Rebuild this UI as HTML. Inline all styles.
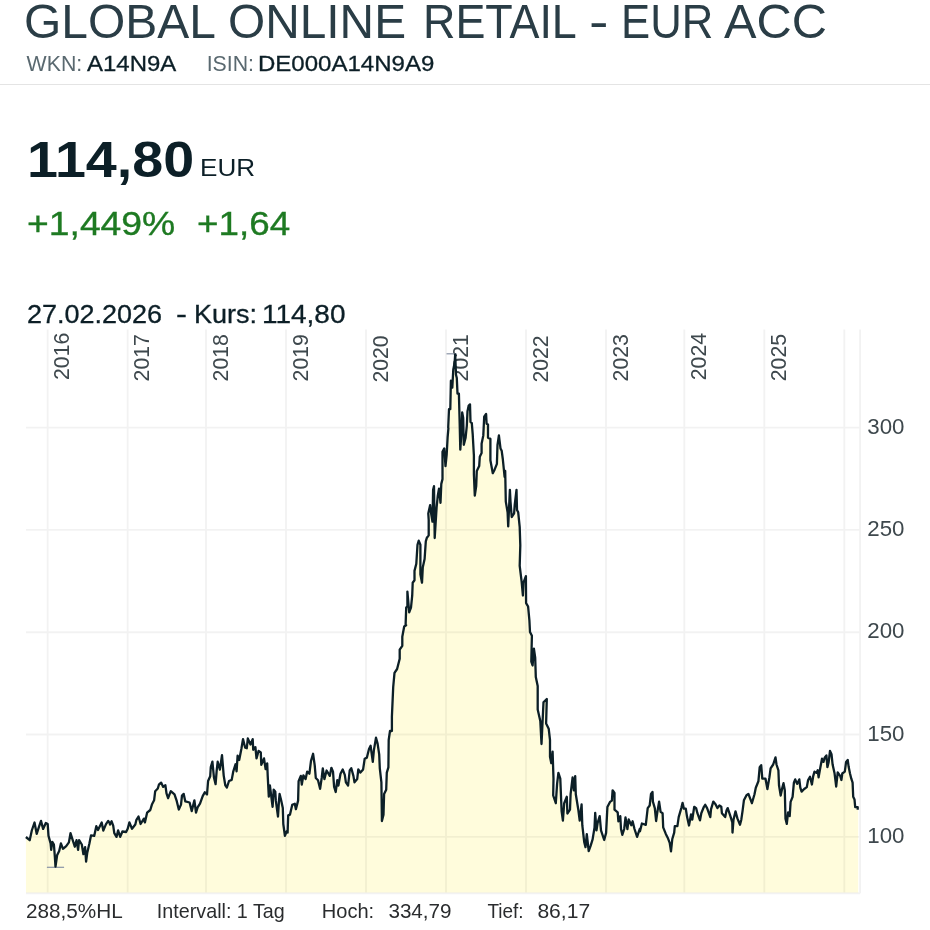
<!DOCTYPE html>
<html><head><meta charset="utf-8">
<title>GLOBAL ONLINE RETAIL - EUR ACC</title>
<style>
html,body{margin:0;padding:0;background:#fff;}
body{width:930px;height:930px;overflow:hidden;position:relative;font-family:"Liberation Sans",sans-serif;color:#0c1f27;}
.t{position:absolute;white-space:nowrap;line-height:1;transform-origin:0 0;}
.tt{top:-2.3px;font-size:47.3px;color:#2a3d46;}
.w{top:54.2px;font-size:21.3px;}
.l{color:#5a6970;}
#hr{position:absolute;left:0;top:84px;width:930px;height:1px;background:#e4e4e4;}
#price{left:26.8px;top:135.2px;font-size:50px;font-weight:bold;transform:scaleX(1.113);}
#cur{left:200px;top:156.8px;font-size:23.5px;transform:scaleX(1.11);}
.c{top:206.5px;font-size:33px;color:#1e7a22;-webkit-text-stroke:0.35px #1e7a22;transform:scaleX(1.13);}
.d{-webkit-text-stroke:0.3px #0c1f27;top:301.9px;font-size:25.3px;transform:scaleX(1.067);}
#chart{position:absolute;left:0;top:326px;}
.g{stroke:#000;stroke-opacity:0.05;stroke-width:1.9;fill:none;}
.m{stroke:#8a94a6;stroke-width:1.2;fill:none;}
.ln{stroke:#0c1f27;stroke-width:2.3;fill:none;stroke-linejoin:round;stroke-linecap:butt;}
text{font-family:"Liberation Sans",sans-serif;fill:#3e484d;}
.yr{font-size:21.5px;}
.yl{font-size:21.9px;}
.bt{font-size:20.9px;fill:#2a2c2e;}
</style></head>
<body>
<div id="t1" class="t tt" style="left:24.2px;transform:scaleX(1.014)">GLOBAL</div>
<div id="t2" class="t tt" style="left:227.8px;transform:scaleX(1.011)">ONLINE</div>
<div id="t3" class="t tt" style="left:423.2px;transform:scaleX(0.949)">RETAIL</div>
<div id="t4" class="t tt" style="left:588.6px;transform:scaleX(1.236)">-</div>
<div id="t5" class="t tt" style="left:620.7px;transform:scaleX(0.924)">EUR</div>
<div id="t6" class="t tt" style="left:724.1px;transform:scaleX(1.03)">ACC</div>
<div id="w1" class="t w l" style="left:26.6px">WKN:</div>
<div id="w2" class="t w" style="left:87.4px;transform:scaleX(1.125);-webkit-text-stroke:0.3px #0c1f27">A14N9A</div>
<div id="w3" class="t w l" style="left:206.7px">ISIN:</div>
<div id="w4" class="t w" style="left:257.5px;transform:scaleX(1.128);-webkit-text-stroke:0.3px #0c1f27">DE000A14N9A9</div>
<div id="hr"></div>
<div id="price" class="t">114,80</div>
<div id="cur" class="t">EUR</div>
<div id="c1" class="t c" style="left:26.5px">+1,449%</div>
<div id="c2" class="t c" style="left:197.3px;transform:scaleX(1.115)">+1,64</div>
<div id="d1" class="t d" style="left:27px">27.02.2026</div>
<div id="d2" class="t d" style="left:176.2px;transform:scaleX(1.3)">-</div>
<div id="d3" class="t d" style="left:193.5px">Kurs:</div>
<div id="d4" class="t d" style="left:262.3px;transform:scaleX(1.105)">114,80</div>
<svg id="chart" width="930" height="604" viewBox="0 326 930 604">
<text class="yr" transform="translate(69.25,380.0) rotate(-90)" textLength="47.3" lengthAdjust="spacingAndGlyphs">2016</text>
<text class="yr" transform="translate(149.25,381.4) rotate(-90)" textLength="47.3" lengthAdjust="spacingAndGlyphs">2017</text>
<text class="yr" transform="translate(227.6,381.4) rotate(-90)" textLength="47.3" lengthAdjust="spacingAndGlyphs">2018</text>
<text class="yr" transform="translate(307.6,381.4) rotate(-90)" textLength="47.3" lengthAdjust="spacingAndGlyphs">2019</text>
<text class="yr" transform="translate(387.6,382.6) rotate(-90)" textLength="47.3" lengthAdjust="spacingAndGlyphs">2020</text>
<text class="yr" transform="translate(467.6,381.4) rotate(-90)" textLength="47.3" lengthAdjust="spacingAndGlyphs">2021</text>
<text class="yr" transform="translate(547.6,382.6) rotate(-90)" textLength="47.3" lengthAdjust="spacingAndGlyphs">2022</text>
<text class="yr" transform="translate(627.6,381.4) rotate(-90)" textLength="47.3" lengthAdjust="spacingAndGlyphs">2023</text>
<text class="yr" transform="translate(705.9300000000001,380.2) rotate(-90)" textLength="47.3" lengthAdjust="spacingAndGlyphs">2024</text>
<text class="yr" transform="translate(785.9300000000001,381.2) rotate(-90)" textLength="47.3" lengthAdjust="spacingAndGlyphs">2025</text>
<path d="M26,892.6 L25.9,837.0 L29.7,840.2 L31.8,830.5 L34.5,822.5 L36.7,833.8 L38.8,827.3 L41.0,820.9 L43.1,828.9 L45.8,823.0 L47.7,824.1 L48.5,835.9 L50.6,843.4 L51.2,849.9 L52.3,841.8 L53.9,844.5 L54.9,857.4 L55.5,866.6 L57.1,855.3 L59.2,851.0 L60.9,843.4 L63.0,848.8 L66.2,846.1 L68.9,842.4 L70.5,833.2 L72.7,840.2 L74.8,846.7 L76.5,840.2 L78.1,849.9 L79.1,840.2 L81.8,844.5 L83.4,854.2 L85.1,847.2 L86.1,861.7 L87.2,853.1 L89.4,843.4 L91.0,835.4 L94.2,835.9 L96.3,826.2 L98.0,830.0 L101.7,822.5 L103.3,830.5 L106.0,824.1 L108.2,820.9 L109.8,823.5 L110.0,824.5 L111.6,821.3 L113.2,825.6 L114.3,833.1 L116.5,836.9 L118.1,830.4 L120.2,836.9 L122.4,831.5 L126.1,832.0 L127.7,828.8 L129.4,822.4 L132.0,828.8 L135.3,824.5 L136.3,820.2 L138.5,816.5 L140.6,824.0 L143.9,818.6 L144.9,822.4 L147.1,812.7 L150.3,810.0 L151.9,804.6 L154.1,800.3 L155.2,791.2 L157.8,788.5 L158.9,784.7 L161.1,782.6 L163.2,786.9 L165.4,785.3 L166.5,793.3 L168.1,798.2 L170.8,791.2 L174.5,794.4 L176.7,800.9 L178.8,809.5 L181.0,804.6 L182.0,795.5 L183.7,793.9 L185.3,801.4 L189.6,802.5 L191.7,811.1 L194.4,800.3 L196.0,812.7 L197.6,807.3 L200.0,803.6 L202.7,796.1 L204.8,792.3 L207.0,794.5 L208.1,781.0 L210.2,776.2 L210.8,767.0 L212.4,761.7 L214.0,777.8 L215.6,784.2 L216.7,770.3 L217.7,761.7 L219.9,769.7 L222.0,755.2 L223.7,775.6 L225.3,785.3 L226.9,787.5 L229.0,781.0 L231.7,779.9 L233.3,771.3 L235.5,764.3 L236.6,771.3 L237.6,755.7 L239.2,760.0 L241.4,748.8 L243.0,739.1 L245.2,747.7 L246.8,748.2 L247.8,738.5 L250.5,744.5 L252.7,739.1 L253.2,749.8 L255.4,747.1 L256.5,758.4 L258.6,750.9 L260.8,752.5 L261.3,764.9 L264.0,758.4 L265.6,769.2 L267.2,763.3 L267.7,775.6 L268.8,796.6 L269.9,785.3 L272.6,806.8 L273.7,789.6 L275.3,791.8 L275.8,800.4 L278.0,816.5 L279.0,800.4 L279.6,793.9 L281.2,800.4 L282.8,807.9 L283.3,824.0 L284.9,835.8 L286.6,831.5 L287.6,832.6 L288.2,815.4 L290.0,814.6 L292.2,804.9 L294.8,803.8 L295.9,809.2 L298.1,800.6 L298.6,781.2 L300.8,775.9 L301.8,784.5 L303.4,775.3 L305.6,779.1 L307.2,771.6 L309.4,773.7 L311.0,760.8 L313.1,753.8 L314.7,765.1 L315.8,778.0 L318.0,780.2 L320.1,788.8 L321.7,778.0 L322.8,768.3 L324.4,779.1 L326.6,770.5 L329.8,775.9 L331.4,767.8 L333.0,771.6 L334.1,786.6 L335.7,792.0 L337.3,780.2 L338.4,785.5 L340.5,773.7 L342.7,769.4 L344.8,774.8 L345.9,782.3 L348.1,785.5 L349.7,770.5 L351.3,768.3 L353.4,775.9 L354.5,782.3 L357.2,779.1 L358.3,769.4 L360.4,772.6 L363.1,769.4 L364.7,758.7 L366.9,757.6 L369.0,749.0 L370.6,745.8 L372.8,761.9 L373.9,750.1 L376.0,737.7 L377.6,743.6 L379.2,754.4 L379.8,768.3 L381.4,782.3 L381.9,821.0 L383.5,814.6 L384.1,794.1 L386.2,789.8 L386.8,772.6 L388.4,767.3 L388.7,740.0 L390.0,731.0 L391.9,731.0 L391.9,716.8 L393.2,687.1 L394.5,672.9 L397.1,669.0 L399.7,658.7 L399.7,649.7 L402.3,645.8 L402.3,636.8 L404.2,626.5 L406.1,625.2 L405.6,625.3 L406.2,607.5 L407.4,606.3 L407.4,591.6 L409.2,612.3 L411.0,607.5 L412.2,595.7 L412.7,582.7 L414.5,580.3 L414.5,570.9 L416.3,563.8 L417.5,544.8 L418.7,540.7 L420.4,544.8 L420.4,574.4 L422.0,582.7 L422.8,567.3 L424.6,559.0 L425.8,541.3 L426.9,537.7 L428.7,535.4 L428.7,520.0 L428.3,513.4 L430.1,505.2 L431.3,514.6 L432.5,521.7 L433.1,489.8 L434.0,486.2 L434.7,538.0 L436.6,507.5 L437.8,495.7 L439.0,488.6 L440.5,502.8 L441.3,483.9 L442.5,479.1 L442.5,451.9 L444.3,448.4 L445.5,466.1 L446.7,454.3 L447.6,437.7 L448.4,428.3 L448.2,427.5 L449.0,409.2 L450.3,409.2 L450.9,380.7 L452.3,387.7 L453.3,369.4 L454.6,363.0 L455.2,354.4 L456.0,374.8 L456.8,378.0 L457.5,393.6 L458.9,393.6 L459.7,424.2 L460.3,449.6 L461.5,431.8 L462.2,412.4 L463.2,418 L463.8,444.8 L465.6,437.7 L466.8,426 L467.5,411.3 L468.6,405.9 L470,404.4 L470.5,422 L471.8,423.2 L472.7,434.2 L473.9,455.5 L473.9,474.4 L474.8,495.7 L476.2,486.2 L476.8,470.9 L479.2,466.1 L479.8,456.7 L481.6,453.1 L481.6,443.7 L483.3,435.4 L484.2,416.7 L486.1,414 L486.6,423.7 L488,424.5 L488,437.7 L490.4,438.9 L490.4,460.2 L492.8,473.2 L494.6,469.7 L496.9,463.8 L497.5,444.8 L498.9,435.4 L500.5,448.4 L501.7,450.8 L502.8,459 L504.6,476.8 L505.2,470.9 L505.8,501.6 L507.6,512.3 L508.2,526.4 L509.9,489.8 L510.5,501.6 L511.7,517 L514.1,513.4 L514.7,505.2 L516.5,489.8 L517,509.9 L518.2,512.3 L519.7,527.1 L520.3,545.2 L519.7,565.8 L521.6,581.3 L522.9,595.5 L523.5,582.6 L525.9,576.1 L526.1,603.2 L528.1,606.5 L529.4,620.3 L530,632 L531.9,635.8 L531.3,661.6 L532.6,665.5 L533.9,648.7 L535.2,657.7 L535.8,677.1 L537.7,686.1 L537.7,709.4 L540.3,721 L541.5,744 L543.5,702.3 L546.8,699 L546.1,723.5 L548.7,728.7 L550.0,740.0 L550.0,756.8 L551.3,763.2 L552.6,751.6 L553.5,778.7 L553.2,795.5 L555.8,803.2 L557.1,783.9 L558.4,772.9 L560.3,778.7 L561.6,811.0 L562.9,820.6 L564.2,803.2 L566.8,796.8 L567.4,813.5 L570.0,809.7 L570.6,794.2 L572.6,777.4 L573.9,790.3 L575.2,776.1 L575.8,794.2 L578.4,810.3 L579.7,820.6 L581.6,804.5 L582.3,825.2 L584.2,841.9 L585.5,847.1 L586.8,834.2 L588.7,851.0 L590.6,845.8 L592.6,839.4 L594.5,827.7 L595.2,812.9 L596.5,830.3 L597.7,822.6 L599.7,816.1 L601.0,830.3 L604.2,840.0 L606.1,832.9 L607.4,807.1 L610.0,801.9 L611.9,800.6 L612.6,790.3 L614.5,792.9 L614.5,809.7 L617.7,812.3 L618.4,821.3 L620.3,816.1 L621.0,829.0 L622.3,834.8 L624.2,829.0 L625.5,817.4 L627.4,829.0 L628.7,819.4 L631.3,825.2 L632.6,821.3 L634.5,829.0 L637.1,836.8 L639.7,829.0 L640.0,831.3 L641.9,823.5 L645.8,824.8 L647.7,808.1 L649.7,805.5 L651.0,793.9 L652.5,791.9 L652.9,801.6 L654.8,808.1 L656.1,821.0 L657.4,811.9 L659.1,801.6 L660.6,811.9 L662.6,813.2 L663.2,827.4 L665.8,833.9 L667.7,837.7 L669.7,842.9 L671.0,851.3 L672.3,839.0 L674.2,832.6 L674.8,826.1 L677.4,826.1 L678.7,817.1 L681.3,808.1 L682.6,802.9 L683.9,808.7 L685.8,808.7 L687.1,817.1 L689.0,825.5 L691.0,814.5 L692.3,819.7 L694.2,806.8 L696.1,808.1 L697.4,813.2 L700.0,820.3 L701.3,813.2 L703.9,806.8 L705.2,804.8 L707.1,808.1 L710.3,817.1 L711.0,809.4 L713.3,801.6 L715.5,804.2 L717.4,808.1 L719.4,805.5 L721.3,806.8 L721.9,813.2 L725.2,817.1 L726.5,810.6 L727.7,808.1 L730.3,815.8 L732.3,822.3 L732.5,832.6 L733.5,819.7 L735.5,811.3 L737.4,818.4 L740.0,824.8 L741.3,819.7 L742.6,810.6 L743.9,800.3 L746.5,795.2 L748.4,793.9 L750.0,798.1 L751.9,803.2 L754.5,794.2 L755.8,787.7 L758.4,781.3 L759.7,767.1 L761.2,765.2 L762.3,778.7 L765.5,778.7 L767.4,789.0 L769.4,777.4 L770.6,768.4 L773.2,764.5 L775.5,757.4 L776.5,764.5 L778.4,770.3 L779.0,785.2 L780.7,795.5 L782.3,787.7 L783.5,783.2 L784.8,790.3 L785.5,818.7 L786.8,823.9 L788.1,812.3 L789.7,816.1 L790.6,801.9 L792.6,796.8 L793.9,782.6 L795.2,779.4 L797.1,783.9 L799.3,779.4 L800.3,787.7 L801.6,791.6 L804.2,789.0 L806.8,787.1 L808.1,780.0 L810.0,776.8 L811.9,784.5 L813.2,776.1 L814.5,771.6 L816.5,772.9 L817.7,770.3 L818.6,777.4 L820.3,767.7 L822.0,758.7 L823.5,761.9 L824.8,757.4 L826.4,755.5 L827.4,767.1 L828.7,761.9 L830.0,751.0 L831.5,754.2 L832.6,764.5 L834.5,772.9 L836.2,786.5 L837.7,772.3 L840.3,776.1 L841.4,780.0 L842.3,773.5 L844.8,771.6 L846.1,761.9 L847.7,760.0 L848.7,767.1 L850.0,773.5 L851.3,778.7 L852.6,782.6 L853.2,796.8 L854.5,799.4 L855.2,807.1 L857.7,807.1 L857.7,809.7 L858.2,809.7 L858.2,892.6 Z" fill="#fffcdc" stroke="none"/>
<path d="M47.65,329.5V893.2M127.65,329.5V893.2M206.0,329.5V893.2M286.0,329.5V893.2M366.0,329.5V893.2M446.0,329.5V893.2M526.0,329.5V893.2M606.0,329.5V893.2M684.33,329.5V893.2M764.33,329.5V893.2M844.33,329.5V893.2M860.1,329.5V893.2M26,427.6H860.1M26,529.9H860.1M26,632.2H860.1M26,734.55H860.1M26,836.9H860.1M26,893.2H860.1" class="g"/>
<line x1="46.9" y1="867.3" x2="64.1" y2="867.3" class="m"/>
<line x1="446.5" y1="353.8" x2="456.5" y2="353.8" class="m"/>
<polyline points="25.9,837.0 29.7,840.2 31.8,830.5 34.5,822.5 36.7,833.8 38.8,827.3 41.0,820.9 43.1,828.9 45.8,823.0 47.7,824.1 48.5,835.9 50.6,843.4 51.2,849.9 52.3,841.8 53.9,844.5 54.9,857.4 55.5,866.6 57.1,855.3 59.2,851.0 60.9,843.4 63.0,848.8 66.2,846.1 68.9,842.4 70.5,833.2 72.7,840.2 74.8,846.7 76.5,840.2 78.1,849.9 79.1,840.2 81.8,844.5 83.4,854.2 85.1,847.2 86.1,861.7 87.2,853.1 89.4,843.4 91.0,835.4 94.2,835.9 96.3,826.2 98.0,830.0 101.7,822.5 103.3,830.5 106.0,824.1 108.2,820.9 109.8,823.5 110.0,824.5 111.6,821.3 113.2,825.6 114.3,833.1 116.5,836.9 118.1,830.4 120.2,836.9 122.4,831.5 126.1,832.0 127.7,828.8 129.4,822.4 132.0,828.8 135.3,824.5 136.3,820.2 138.5,816.5 140.6,824.0 143.9,818.6 144.9,822.4 147.1,812.7 150.3,810.0 151.9,804.6 154.1,800.3 155.2,791.2 157.8,788.5 158.9,784.7 161.1,782.6 163.2,786.9 165.4,785.3 166.5,793.3 168.1,798.2 170.8,791.2 174.5,794.4 176.7,800.9 178.8,809.5 181.0,804.6 182.0,795.5 183.7,793.9 185.3,801.4 189.6,802.5 191.7,811.1 194.4,800.3 196.0,812.7 197.6,807.3 200.0,803.6 202.7,796.1 204.8,792.3 207.0,794.5 208.1,781.0 210.2,776.2 210.8,767.0 212.4,761.7 214.0,777.8 215.6,784.2 216.7,770.3 217.7,761.7 219.9,769.7 222.0,755.2 223.7,775.6 225.3,785.3 226.9,787.5 229.0,781.0 231.7,779.9 233.3,771.3 235.5,764.3 236.6,771.3 237.6,755.7 239.2,760.0 241.4,748.8 243.0,739.1 245.2,747.7 246.8,748.2 247.8,738.5 250.5,744.5 252.7,739.1 253.2,749.8 255.4,747.1 256.5,758.4 258.6,750.9 260.8,752.5 261.3,764.9 264.0,758.4 265.6,769.2 267.2,763.3 267.7,775.6 268.8,796.6 269.9,785.3 272.6,806.8 273.7,789.6 275.3,791.8 275.8,800.4 278.0,816.5 279.0,800.4 279.6,793.9 281.2,800.4 282.8,807.9 283.3,824.0 284.9,835.8 286.6,831.5 287.6,832.6 288.2,815.4 290.0,814.6 292.2,804.9 294.8,803.8 295.9,809.2 298.1,800.6 298.6,781.2 300.8,775.9 301.8,784.5 303.4,775.3 305.6,779.1 307.2,771.6 309.4,773.7 311.0,760.8 313.1,753.8 314.7,765.1 315.8,778.0 318.0,780.2 320.1,788.8 321.7,778.0 322.8,768.3 324.4,779.1 326.6,770.5 329.8,775.9 331.4,767.8 333.0,771.6 334.1,786.6 335.7,792.0 337.3,780.2 338.4,785.5 340.5,773.7 342.7,769.4 344.8,774.8 345.9,782.3 348.1,785.5 349.7,770.5 351.3,768.3 353.4,775.9 354.5,782.3 357.2,779.1 358.3,769.4 360.4,772.6 363.1,769.4 364.7,758.7 366.9,757.6 369.0,749.0 370.6,745.8 372.8,761.9 373.9,750.1 376.0,737.7 377.6,743.6 379.2,754.4 379.8,768.3 381.4,782.3 381.9,821.0 383.5,814.6 384.1,794.1 386.2,789.8 386.8,772.6 388.4,767.3 388.7,740.0 390.0,731.0 391.9,731.0 391.9,716.8 393.2,687.1 394.5,672.9 397.1,669.0 399.7,658.7 399.7,649.7 402.3,645.8 402.3,636.8 404.2,626.5 406.1,625.2 405.6,625.3 406.2,607.5 407.4,606.3 407.4,591.6 409.2,612.3 411.0,607.5 412.2,595.7 412.7,582.7 414.5,580.3 414.5,570.9 416.3,563.8 417.5,544.8 418.7,540.7 420.4,544.8 420.4,574.4 422.0,582.7 422.8,567.3 424.6,559.0 425.8,541.3 426.9,537.7 428.7,535.4 428.7,520.0 428.3,513.4 430.1,505.2 431.3,514.6 432.5,521.7 433.1,489.8 434.0,486.2 434.7,538.0 436.6,507.5 437.8,495.7 439.0,488.6 440.5,502.8 441.3,483.9 442.5,479.1 442.5,451.9 444.3,448.4 445.5,466.1 446.7,454.3 447.6,437.7 448.4,428.3 448.2,427.5 449.0,409.2 450.3,409.2 450.9,380.7 452.3,387.7 453.3,369.4 454.6,363.0 455.2,354.4 456.0,374.8 456.8,378.0 457.5,393.6 458.9,393.6 459.7,424.2 460.3,449.6 461.5,431.8 462.2,412.4 463.2,418 463.8,444.8 465.6,437.7 466.8,426 467.5,411.3 468.6,405.9 470,404.4 470.5,422 471.8,423.2 472.7,434.2 473.9,455.5 473.9,474.4 474.8,495.7 476.2,486.2 476.8,470.9 479.2,466.1 479.8,456.7 481.6,453.1 481.6,443.7 483.3,435.4 484.2,416.7 486.1,414 486.6,423.7 488,424.5 488,437.7 490.4,438.9 490.4,460.2 492.8,473.2 494.6,469.7 496.9,463.8 497.5,444.8 498.9,435.4 500.5,448.4 501.7,450.8 502.8,459 504.6,476.8 505.2,470.9 505.8,501.6 507.6,512.3 508.2,526.4 509.9,489.8 510.5,501.6 511.7,517 514.1,513.4 514.7,505.2 516.5,489.8 517,509.9 518.2,512.3 519.7,527.1 520.3,545.2 519.7,565.8 521.6,581.3 522.9,595.5 523.5,582.6 525.9,576.1 526.1,603.2 528.1,606.5 529.4,620.3 530,632 531.9,635.8 531.3,661.6 532.6,665.5 533.9,648.7 535.2,657.7 535.8,677.1 537.7,686.1 537.7,709.4 540.3,721 541.5,744 543.5,702.3 546.8,699 546.1,723.5 548.7,728.7 550.0,740.0 550.0,756.8 551.3,763.2 552.6,751.6 553.5,778.7 553.2,795.5 555.8,803.2 557.1,783.9 558.4,772.9 560.3,778.7 561.6,811.0 562.9,820.6 564.2,803.2 566.8,796.8 567.4,813.5 570.0,809.7 570.6,794.2 572.6,777.4 573.9,790.3 575.2,776.1 575.8,794.2 578.4,810.3 579.7,820.6 581.6,804.5 582.3,825.2 584.2,841.9 585.5,847.1 586.8,834.2 588.7,851.0 590.6,845.8 592.6,839.4 594.5,827.7 595.2,812.9 596.5,830.3 597.7,822.6 599.7,816.1 601.0,830.3 604.2,840.0 606.1,832.9 607.4,807.1 610.0,801.9 611.9,800.6 612.6,790.3 614.5,792.9 614.5,809.7 617.7,812.3 618.4,821.3 620.3,816.1 621.0,829.0 622.3,834.8 624.2,829.0 625.5,817.4 627.4,829.0 628.7,819.4 631.3,825.2 632.6,821.3 634.5,829.0 637.1,836.8 639.7,829.0 640.0,831.3 641.9,823.5 645.8,824.8 647.7,808.1 649.7,805.5 651.0,793.9 652.5,791.9 652.9,801.6 654.8,808.1 656.1,821.0 657.4,811.9 659.1,801.6 660.6,811.9 662.6,813.2 663.2,827.4 665.8,833.9 667.7,837.7 669.7,842.9 671.0,851.3 672.3,839.0 674.2,832.6 674.8,826.1 677.4,826.1 678.7,817.1 681.3,808.1 682.6,802.9 683.9,808.7 685.8,808.7 687.1,817.1 689.0,825.5 691.0,814.5 692.3,819.7 694.2,806.8 696.1,808.1 697.4,813.2 700.0,820.3 701.3,813.2 703.9,806.8 705.2,804.8 707.1,808.1 710.3,817.1 711.0,809.4 713.3,801.6 715.5,804.2 717.4,808.1 719.4,805.5 721.3,806.8 721.9,813.2 725.2,817.1 726.5,810.6 727.7,808.1 730.3,815.8 732.3,822.3 732.5,832.6 733.5,819.7 735.5,811.3 737.4,818.4 740.0,824.8 741.3,819.7 742.6,810.6 743.9,800.3 746.5,795.2 748.4,793.9 750.0,798.1 751.9,803.2 754.5,794.2 755.8,787.7 758.4,781.3 759.7,767.1 761.2,765.2 762.3,778.7 765.5,778.7 767.4,789.0 769.4,777.4 770.6,768.4 773.2,764.5 775.5,757.4 776.5,764.5 778.4,770.3 779.0,785.2 780.7,795.5 782.3,787.7 783.5,783.2 784.8,790.3 785.5,818.7 786.8,823.9 788.1,812.3 789.7,816.1 790.6,801.9 792.6,796.8 793.9,782.6 795.2,779.4 797.1,783.9 799.3,779.4 800.3,787.7 801.6,791.6 804.2,789.0 806.8,787.1 808.1,780.0 810.0,776.8 811.9,784.5 813.2,776.1 814.5,771.6 816.5,772.9 817.7,770.3 818.6,777.4 820.3,767.7 822.0,758.7 823.5,761.9 824.8,757.4 826.4,755.5 827.4,767.1 828.7,761.9 830.0,751.0 831.5,754.2 832.6,764.5 834.5,772.9 836.2,786.5 837.7,772.3 840.3,776.1 841.4,780.0 842.3,773.5 844.8,771.6 846.1,761.9 847.7,760.0 848.7,767.1 850.0,773.5 851.3,778.7 852.6,782.6 853.2,796.8 854.5,799.4 855.2,807.1 857.7,807.1 857.7,809.7" class="ln"/>
<text class="yl" x="867.3" y="433.60" textLength="37.2" lengthAdjust="spacingAndGlyphs">300</text>
<text class="yl" x="867.3" y="535.90" textLength="37.2" lengthAdjust="spacingAndGlyphs">250</text>
<text class="yl" x="867.3" y="638.20" textLength="37.2" lengthAdjust="spacingAndGlyphs">200</text>
<text class="yl" x="867.3" y="740.55" textLength="37.2" lengthAdjust="spacingAndGlyphs">150</text>
<text class="yl" x="867.3" y="842.90" textLength="37.2" lengthAdjust="spacingAndGlyphs">100</text>
<text class="bt" x="26.0" y="917.8" textLength="96.8" lengthAdjust="spacingAndGlyphs">288,5%HL</text>
<text class="bt" x="156.79999999999998" y="917.8" textLength="128.0" lengthAdjust="spacingAndGlyphs">Intervall: 1 Tag</text>
<text class="bt" x="321.8" y="917.8" textLength="52.4" lengthAdjust="spacingAndGlyphs">Hoch:</text>
<text class="bt" x="388.40000000000003" y="917.8" textLength="63.2" lengthAdjust="spacingAndGlyphs">334,79</text>
<text class="bt" x="487.40000000000003" y="917.8" textLength="36.2" lengthAdjust="spacingAndGlyphs">Tief:</text>
<text class="bt" x="537.4" y="917.8" textLength="52.8" lengthAdjust="spacingAndGlyphs">86,17</text>
</svg>
</body></html>
